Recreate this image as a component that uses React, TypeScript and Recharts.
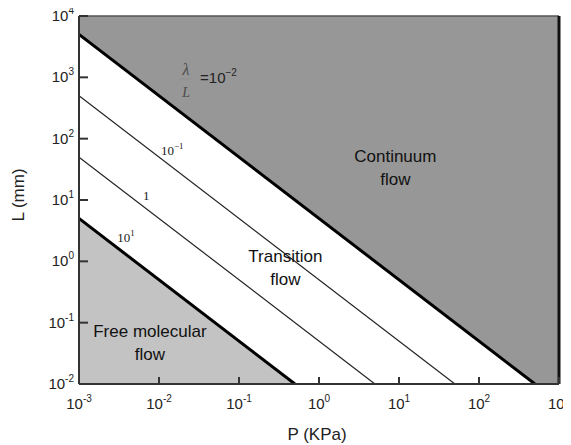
import React from 'react';
import {
  ComposedChart,
  Area,
  Line,
  XAxis,
  YAxis,
  ReferenceLine,
  ReferenceDot
} from 'recharts';

// decades on both log axes
const P_TICKS = [1e-3, 1e-2, 1e-1, 1, 10, 100, 1000];
const L_TICKS = [1e-2, 1e-1, 1, 10, 100, 1000, 1e4];

// lambda / L = const boundaries, end points on the frame (P in KPa, L in mm)
const KN_0_01 = [{ p: 1e-3, l: 5000 }, { p: 500, l: 0.01 }];
const KN_0_1 = [{ p: 1e-3, l: 500 }, { p: 50, l: 0.01 }];
const KN_1 = [{ p: 1e-3, l: 50 }, { p: 5, l: 0.01 }];
const KN_10 = [{ p: 1e-3, l: 5 }, { p: 0.5, l: 0.01 }];

// shaded regimes as [lo, hi] bands of L
const CONTINUUM = [
  { p: 1e-3, lo: 5000, hi: 1e4 },
  { p: 500, lo: 0.01, hi: 1e4 },
  { p: 1000, lo: 0.01, hi: 1e4 }
];
const FREE_MOLECULAR = [
  { p: 1e-3, lo: 0.01, hi: 5 },
  { p: 0.5, lo: 0.01, hi: 0.01 }
];

const SANS = '"Liberation Sans", Arial, sans-serif';
const SERIF = '"Liberation Serif", "Times New Roman", serif';

const W = 560;
const H = 440;

const YTick = ({ x, y, payload }: any) => {
  const e = Math.round(Math.log10(payload.value));
  return (
    <g>
      <line x1={x} y1={y} x2={x + 9} y2={y} stroke="#333" strokeWidth={2} />
      <text x={x - 5} y={y + 5} textAnchor="end" fontFamily={SANS} fontSize={15} fill="#222">
        10<tspan dy={-7} fontSize={10}>{e}</tspan>
      </text>
    </g>
  );
};

const XTick = ({ x, y, payload }: any) => {
  const e = Math.round(Math.log10(payload.value));
  return (
    <g>
      <line x1={x} y1={y} x2={x} y2={y - 7} stroke="#333" strokeWidth={2} />
      <text x={x} y={y + 25} textAnchor="middle" fontFamily={SANS} fontSize={15} fill="#222">
        10<tspan dy={-7} fontSize={10}>{e}</tspan>
      </text>
    </g>
  );
};

// two-line regime caption centred on the anchor point
const regionLabel = (lines: string[]) => (props: any) => {
  const { x, y } = props.viewBox;
  return (
    <text x={x} y={y} textAnchor="middle" fontFamily={SANS} fontSize={17} fill="#111">
      {lines.map((t, i) => (
        <tspan key={t} x={x} dy={i ? 23 : 0}>{t}</tspan>
      ))}
    </text>
  );
};

// serif value tag sitting on a thin boundary line
const knLabel = (exp: string | null) => (props: any) => {
  const { x, y } = props.viewBox;
  return (
    <text x={x} y={y} fontFamily={SERIF} fontSize={13} fill="#1a1a1a">
      {exp === null ? '1' : '10'}
      {exp !== null && <tspan dy={-6} fontSize={9}>{exp}</tspan>}
    </text>
  );
};

const lambdaLabel = (props: any) => {
  const { x, y } = props.viewBox;
  return (
    <g>
      <text x={x - 14} y={y - 8} textAnchor="middle" fontFamily={SERIF} fontStyle="italic" fontSize={16} fill="#4a4a4a">λ</text>
      <line x1={x - 21} y1={y - 4} x2={x - 7} y2={y - 4} stroke="#8a8a8a" strokeWidth={0.6} />
      <text x={x - 14} y={y + 14} textAnchor="middle" fontFamily={SERIF} fontStyle="italic" fontSize={14} fill="#4a4a4a">L</text>
      <text x={x} y={y} fontFamily={SANS} fontSize={15} fill="#222">
        =10<tspan dy={-7} fontSize={10}>−2</tspan>
      </text>
    </g>
  );
};

export default function App() {
  return (
    <div style={{ width: W, height: H }}>
      <style>{'.recharts-surface{overflow:visible}'}</style>
      <ComposedChart width={W} height={H} margin={{ top: 8, right: 9, left: 0, bottom: 0 }}>
        <Area
          data={CONTINUUM}
          dataKey={(d: any) => [d.lo, d.hi]}
          type="linear"
          stroke="none"
          fill="#979797"
          fillOpacity={1}
          isAnimationActive={false}
        />
        <Area
          data={FREE_MOLECULAR}
          dataKey={(d: any) => [d.lo, d.hi]}
          type="linear"
          stroke="none"
          fill="#c3c3c3"
          fillOpacity={1}
          isAnimationActive={false}
        />
        <XAxis
          dataKey="p"
          type="number"
          scale="log"
          domain={[1e-3, 1e3]}
          ticks={P_TICKS}
          interval={0}
          allowDataOverflow
          height={64}
          tickSize={0}
          tickMargin={0}
          tickLine={false}
          tick={<XTick />}
          axisLine={{ stroke: '#333', strokeWidth: 2 }}
          label={(props: any) => {
            const vb = props.viewBox;
            return (
              <text x={vb.x + vb.width / 2 - 2} y={vb.y + 56} textAnchor="middle" fontFamily={SANS} fontSize={17} fill="#222">
                P (KPa)
              </text>
            );
          }}
        />
        <YAxis
          dataKey="l"
          type="number"
          scale="log"
          domain={[1e-2, 1e4]}
          ticks={L_TICKS}
          interval={0}
          allowDataOverflow
          width={71}
          tickSize={0}
          tickMargin={0}
          tickLine={false}
          tick={<YTick />}
          axisLine={{ stroke: '#333', strokeWidth: 2 }}
          label={(props: any) => {
            const vb = props.viewBox;
            const cx = vb.x + 10;
            const cy = vb.y + vb.height / 2 - 5;
            return (
              <text x={cx} y={cy} textAnchor="middle" dominantBaseline="central" transform={`rotate(-90 ${cx} ${cy})`} fontFamily={SANS} fontSize={17} fill="#222">
                L (mm)
              </text>
            );
          }}
        />
        <ReferenceDot x={9} y={42} r={0} fill="none" stroke="none" label={regionLabel(['Continuum', 'flow'])} />
        <ReferenceDot x={0.38} y={0.97} r={0} fill="none" stroke="none" label={regionLabel(['Transition', 'flow'])} />
        <ReferenceDot x={0.0077} y={0.058} r={0} fill="none" stroke="none" label={regionLabel(['Free molecular', 'flow'])} />
        <ReferenceDot x={0.0106} y={54} r={0} fill="none" stroke="none" label={knLabel('−1')} />
        <ReferenceDot x={0.0063} y={10} r={0} fill="none" stroke="none" label={knLabel(null)} />
        <ReferenceDot x={0.003} y={2.07} r={0} fill="none" stroke="none" label={knLabel('1')} />
        <ReferenceDot x={0.0326} y={809} r={0} fill="none" stroke="none" label={lambdaLabel} />
        <Line data={KN_0_1} dataKey="l" type="linear" stroke="#222" strokeWidth={1.2} dot={false} isAnimationActive={false} />
        <Line data={KN_1} dataKey="l" type="linear" stroke="#222" strokeWidth={1.2} dot={false} isAnimationActive={false} />
        <Line data={KN_0_01} dataKey="l" type="linear" stroke="#000" strokeWidth={3} dot={false} isAnimationActive={false} />
        <Line data={KN_10} dataKey="l" type="linear" stroke="#000" strokeWidth={3} dot={false} isAnimationActive={false} />
        <ReferenceLine y={1e4} stroke="#555" strokeWidth={1.5} />
        <ReferenceLine x={1e3} stroke="#111" strokeWidth={3} />
      </ComposedChart>
    </div>
  );
}
